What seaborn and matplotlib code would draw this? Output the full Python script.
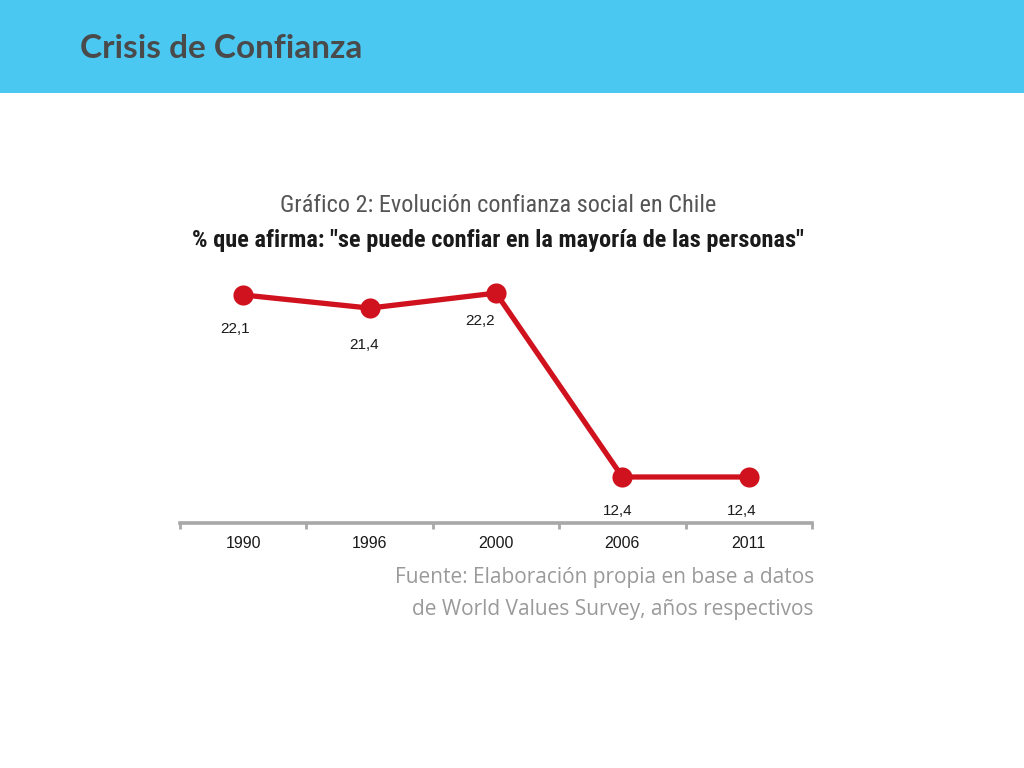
import matplotlib
matplotlib.use("Agg")
import matplotlib.pyplot as plt
from matplotlib.patches import Rectangle
import seaborn as sns
import pandas as pd

years = ["1990", "1996", "2000", "2006", "2011"]
values = [22.1, 21.4, 22.2, 12.4, 12.4]
value_labels = ["22,1", "21,4", "22,2", "12,4", "12,4"]

sns.set_theme(style="white")
plt.rcParams['font.family'] = ['Liberation Sans', 'DejaVu Sans']

fig = plt.figure(figsize=(10.24, 7.68), dpi=100)
fig.patch.set_facecolor("white")

# header band
fig.patches.append(Rectangle((0, 1 - 93/768), 1, 93/768, transform=fig.transFigure,
                             facecolor="#4BC8F2", edgecolor="none", zorder=0))
fig.text(80/1024, 1 - 49/768, "Crisis de Confianza", fontsize=24, fontweight="bold",
         color="#4A4A4A", ha="left", va="center", family=['Lato', 'DejaVu Sans'])

# chart titles
fig.text(498/1024, 1 - 205/768, "Gráfico 2: Evolución confianza social en Chile",
         fontsize=17.5, fontweight="normal", color="#555555", ha="center", va="center",
         family=['Roboto Condensed', 'Open Sans', 'DejaVu Sans'], fontstretch="condensed")
fig.text(498/1024, 1 - 240/768, '% que afirma: "se puede confiar en la mayoría de las personas"',
         fontsize=17.6, fontweight="bold", color="#1A1A1A", ha="center", va="center",
         family=['Roboto Condensed', 'Open Sans', 'DejaVu Sans'], fontstretch="condensed")

# source
fig.text(814/1024, 1 - 578/768, "Fuente: Elaboración propia en base a datos",
         fontsize=15, color="#9A9A9A", ha="right", va="center", family=['Open Sans', 'DejaVu Sans'])
fig.text(814/1024, 1 - 610/768, "de World Values Survey, años respectivos",
         fontsize=15, color="#9A9A9A", ha="right", va="center", family=['Open Sans', 'DejaVu Sans'])

ax = fig.add_axes([180/1024, 1 - 523/768, 632/1024, 253/768])
ax.set_facecolor("none")

df = pd.DataFrame({"pos": list(range(len(years))), "value": values})
red = "#D0121E"
sns.lineplot(data=df, x="pos", y="value", ax=ax, color=red, linewidth=3.8,
             marker="o", markersize=14.5, markeredgecolor=red, markeredgewidth=0)

ax.set_xlim(-0.5, len(years) - 0.5)
ax.set_ylim(9.948, 23.43)

# data labels (offsets in pixels)
offsets_px = [(-8, -34), (-6, -37), (-16, -28), (-5, -34), (-7, -34)]
for i, (v, lab) in enumerate(zip(values, value_labels)):
    dx, dy = offsets_px[i]
    ax.annotate(lab, (i, v), xytext=(dx * 0.72, dy * 0.72),
                textcoords="offset points", ha="center", va="center",
                fontsize=11, color="#1A1A1A")

for s in ["top", "right", "left"]:
    ax.spines[s].set_visible(False)
ax.spines["bottom"].set_color("#A8A8A8")
ax.spines["bottom"].set_linewidth(2.6)
ax.set_yticks([])
ax.set_xticks(range(len(years)))
ax.set_xticklabels(years, fontsize=11.5, color="#1A1A1A")
ax.tick_params(axis="x", which="major", length=0, pad=9, bottom=True)
ax.set_xticks([i - 0.5 for i in range(len(years) + 1)], minor=True)
ax.tick_params(axis="x", which="minor", length=4.5, width=2, color="#A8A8A8",
               direction="out", bottom=True)
ax.set_xlabel("")
ax.set_ylabel("")

fig.savefig("out.png", dpi=100)
